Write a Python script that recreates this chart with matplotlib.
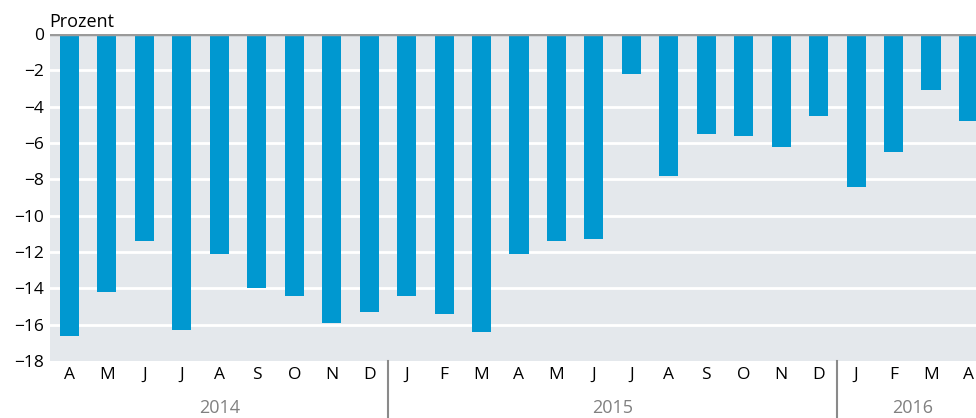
import matplotlib
matplotlib.use("Agg")
import matplotlib.pyplot as plt
import numpy as np

months = ["A", "M", "J", "J", "A", "S", "O", "N", "D",
          "J", "F", "M", "A", "M", "J", "J", "A", "S", "O", "N", "D",
          "J", "F", "M", "A"]
values = [-16.6, -14.2, -11.4, -16.3, -12.1, -14.0, -14.4, -15.9, -15.3,
          -14.4, -15.4, -16.4, -12.1, -11.4, -11.3, -2.2, -7.8, -5.5, -5.6, -6.2, -4.5,
          -8.4, -6.5, -3.1, -4.8]
years = ["2014", "2015", "2016"]
year_counts = [9, 12, 4]
yticks = [0, -2, -4, -6, -8, -10, -12, -14, -16, -18]

plt.rcParams['font.family'] = ['Open Sans', 'DejaVu Sans']
fig = plt.figure(figsize=(9.76, 4.18), dpi=100)
ax = fig.add_axes([50/976, 1-361/418, 1-50/976, (361-34)/418])
ax.set_facecolor("#e4e8ec")
x = np.arange(len(values))
ax.bar(x, values, width=0.51, color="#0098d0", zorder=3)
ax.set_xlim(-0.52, 24.2)
ax.set_ylim(-18, 0)
ax.set_yticks(yticks)
ax.set_yticklabels([str(t).replace("-", "\u2212") for t in yticks], fontsize=12.5)
for t in yticks[1:-1]:
    ax.axhline(t, color="white", lw=2, zorder=1)
ax.axhline(0, color="#9a9a9a", lw=2.5, zorder=4)
ax.set_xticks(x)
ax.set_xticklabels(months, fontsize=12.5)
ax.tick_params(axis="both", length=0, pad=4)
for s in ax.spines.values():
    s.set_visible(False)
ax.text(-0.001, 1.01, "Prozent", transform=ax.transAxes,
        fontsize=13, ha="left", va="bottom")
# year labels and separators
start = 0
trans = ax.get_xaxis_transform()
for i, (yr, n) in enumerate(zip(years, year_counts)):
    center = start + (n - 1) / 2
    ax.text(center, -0.145, yr, transform=trans, ha="center", va="center",
            fontsize=13, color="#808080", clip_on=False)
    if i > 0:
        ax.plot([start - 0.5, start - 0.5], [0.0, -0.2], transform=trans,
                color="#8a8a8a", lw=1.5, clip_on=False)
    start += n
fig.savefig("out.png", dpi=100)
